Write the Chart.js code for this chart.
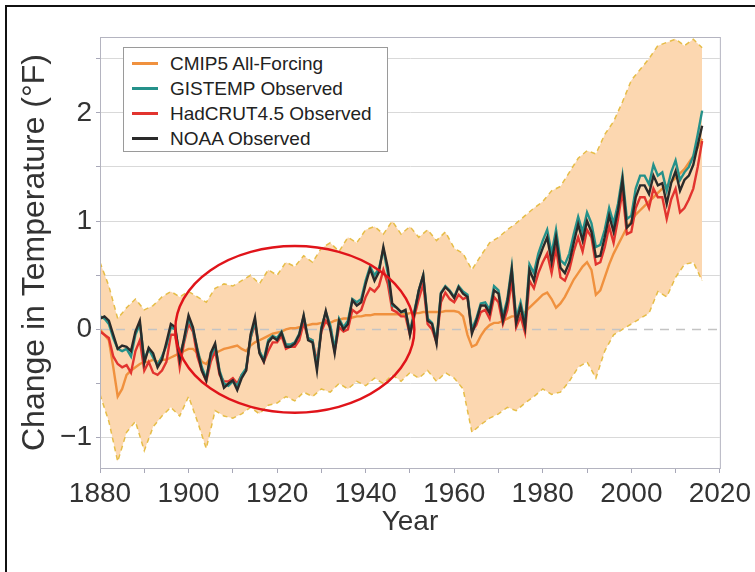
<!DOCTYPE html>
<html>
<head>
<meta charset="utf-8">
<script src="https://cdn.jsdelivr.net/npm/chart.js@4.4.1/dist/chart.umd.min.js"></script>
<style>
  html, body { margin: 0; padding: 0; background: #fff; }
  #wrap { position: relative; width: 755px; height: 572px; overflow: hidden; }
  #frame { position: absolute; left: 5px; top: 5px; width: 760px; height: 580px; border-top: 2px solid #111; border-left: 2px solid #111; pointer-events: none; }
  #legend { position: absolute; left: 123px; top: 47px; width: 265px; height: 105px; border: 1px solid #9a9a9a; background: #fff; box-sizing: border-box; padding-top: 3px; font-family: "Liberation Sans", Arial, sans-serif; font-size: 19px; color: #222; }
  .row { height: 25px; display: flex; align-items: center; white-space: nowrap; }
  .swatch { width: 26px; height: 3px; margin-left: 8px; margin-right: 12px; }
</style>
</head>
<body>
<div id="wrap">
  <canvas id="chart" width="755" height="572"></canvas>
  <div id="legend"></div>
  <div id="frame"></div>
</div>
<script>
// Annual series, change in temperature (°F) relative to 1901-1960
const firstYear = 1880;
const lastYear = 2016;

const seriesNames = ['CMIP5 All-Forcing', 'GISTEMP Observed', 'HadCRUT4.5 Observed', 'NOAA Observed'];
const seriesColors = ['#f0913e', '#25918a', '#e2342f', '#2a2a2a'];

const cmip5 = [
  0.00, -0.05, -0.10, -0.35, -0.62, -0.55, -0.42, -0.38, -0.35, -0.32,
  -0.30, -0.30, -0.28, -0.30, -0.28, -0.28, -0.26, -0.24, -0.22, -0.20,
  -0.18, -0.18, -0.22, -0.30, -0.32, -0.26, -0.22, -0.20, -0.18, -0.17,
  -0.16, -0.15, -0.18, -0.20, -0.15, -0.12, -0.10, -0.08, -0.06, -0.04,
  -0.03, -0.02, 0.00, 0.01, 0.01, 0.02, 0.03, 0.04, 0.05, 0.05,
  0.06, 0.06, 0.06, 0.08, 0.09, 0.10, 0.10, 0.11, 0.12, 0.12,
  0.13, 0.13, 0.14, 0.14, 0.14, 0.14, 0.14, 0.14, 0.14, 0.14,
  0.15, 0.15, 0.15, 0.16, 0.16, 0.16, 0.16, 0.16, 0.17, 0.17,
  0.17, 0.16, 0.12, -0.05, -0.16, -0.14, -0.06, 0.00, 0.04, 0.06,
  0.06, 0.08, 0.10, 0.12, 0.12, 0.14, 0.16, 0.20, 0.24, 0.28,
  0.32, 0.34, 0.28, 0.20, 0.24, 0.30, 0.38, 0.46, 0.52, 0.58,
  0.62, 0.55, 0.32, 0.36, 0.48, 0.60, 0.70, 0.78, 0.86, 0.94,
  1.00, 1.06, 1.10, 1.14, 1.18, 1.22, 1.26, 1.30, 1.33, 1.36,
  1.40, 1.44, 1.48, 1.54, 1.60, 1.68, 1.76
];

const gistemp = [
  0.12, 0.10, 0.05, -0.08, -0.18, -0.20, -0.18, -0.25, -0.05, 0.05,
  -0.28, -0.18, -0.26, -0.33, -0.25, -0.15, 0.02, 0.00, -0.24, -0.10,
  0.10, 0.00, -0.18, -0.35, -0.45, -0.25, -0.15, -0.38, -0.50, -0.52,
  -0.48, -0.52, -0.42, -0.36, -0.08, 0.08, -0.20, -0.28, -0.10, -0.06,
  -0.08, -0.02, -0.14, -0.14, -0.12, -0.04, 0.12, -0.08, -0.10, -0.34,
  0.02, 0.16, 0.04, -0.18, 0.10, 0.02, 0.08, 0.28, 0.25, 0.28,
  0.45, 0.58, 0.50, 0.56, 0.74, 0.52, 0.22, 0.20, 0.16, 0.17,
  -0.02, 0.17, 0.36, 0.50, 0.10, 0.06, -0.10, 0.34, 0.40, 0.36,
  0.30, 0.40, 0.35, 0.32, 0.00, 0.10, 0.24, 0.25, 0.18, 0.40,
  0.36, 0.12, 0.28, 0.58, 0.10, 0.25, 0.06, 0.60, 0.52, 0.70,
  0.82, 0.92, 0.70, 0.92, 0.64, 0.60, 0.70, 0.88, 1.04, 0.90,
  1.08, 0.98, 0.76, 0.78, 0.92, 1.12, 0.98, 1.16, 1.42, 1.02,
  1.05, 1.30, 1.42, 1.42, 1.34, 1.52, 1.42, 1.45, 1.28, 1.45,
  1.56, 1.38, 1.45, 1.50, 1.60, 1.80, 2.02
];

const hadcrut = [
  -0.02, -0.05, -0.08, -0.25, -0.32, -0.35, -0.33, -0.40, -0.20, -0.10,
  -0.38, -0.30, -0.40, -0.42, -0.38, -0.30, -0.05, -0.05, -0.35, -0.12,
  0.05, -0.02, -0.25, -0.38, -0.48, -0.30, -0.20, -0.42, -0.48, -0.48,
  -0.45, -0.50, -0.42, -0.38, -0.08, 0.05, -0.20, -0.30, -0.20, -0.12,
  -0.12, -0.06, -0.18, -0.16, -0.16, -0.10, 0.06, -0.08, -0.10, -0.30,
  -0.02, 0.08, 0.02, -0.20, 0.02, -0.02, 0.00, 0.18, 0.15, 0.18,
  0.30, 0.38, 0.35, 0.40, 0.55, 0.42, 0.18, 0.16, 0.12, 0.12,
  -0.05, 0.12, 0.28, 0.42, 0.05, 0.00, -0.12, 0.25, 0.34, 0.28,
  0.25, 0.32, 0.28, 0.30, -0.02, 0.04, 0.16, 0.18, 0.10, 0.30,
  0.25, 0.05, 0.18, 0.45, 0.02, 0.12, -0.03, 0.45, 0.38, 0.52,
  0.62, 0.70, 0.52, 0.75, 0.48, 0.45, 0.55, 0.72, 0.85, 0.72,
  0.92, 0.85, 0.60, 0.62, 0.76, 0.95, 0.80, 1.02, 1.28, 0.88,
  0.90, 1.12, 1.22, 1.22, 1.12, 1.30, 1.22, 1.22, 1.02, 1.20,
  1.30, 1.08, 1.12, 1.20, 1.30, 1.50, 1.74
];

const noaa = [
  0.10, 0.12, 0.08, -0.05, -0.18, -0.15, -0.16, -0.20, -0.02, 0.08,
  -0.31, -0.17, -0.22, -0.35, -0.28, -0.12, 0.05, 0.02, -0.28, -0.08,
  0.13, 0.02, -0.20, -0.38, -0.47, -0.22, -0.13, -0.40, -0.54, -0.50,
  -0.47, -0.56, -0.45, -0.38, -0.05, 0.11, -0.22, -0.30, -0.12, -0.07,
  -0.10, -0.03, -0.16, -0.16, -0.13, -0.05, 0.13, -0.10, -0.12, -0.38,
  0.00, 0.17, 0.00, -0.22, 0.08, 0.00, 0.05, 0.27, 0.22, 0.25,
  0.42, 0.56, 0.45, 0.53, 0.76, 0.57, 0.24, 0.20, 0.16, 0.18,
  -0.05, 0.15, 0.36, 0.50, 0.08, 0.05, -0.13, 0.33, 0.39, 0.35,
  0.29, 0.39, 0.33, 0.30, -0.04, 0.08, 0.22, 0.22, 0.15, 0.36,
  0.33, 0.08, 0.25, 0.55, 0.06, 0.21, 0.02, 0.55, 0.45, 0.64,
  0.75, 0.85, 0.62, 0.85, 0.57, 0.52, 0.62, 0.80, 0.97, 0.82,
  1.00, 0.90, 0.67, 0.68, 0.85, 1.05, 0.90, 1.10, 1.38, 0.94,
  0.98, 1.22, 1.33, 1.33, 1.25, 1.42, 1.33, 1.35, 1.16, 1.35,
  1.46, 1.28, 1.38, 1.42, 1.52, 1.70, 1.88
];

// Model spread, every second year from 1880 to 2016
const bandUpper = [
  0.62, 0.40, 0.10, 0.20, 0.28, 0.18, 0.22, 0.30, 0.35, 0.30,
  0.35, 0.30, 0.25, 0.38, 0.42, 0.40, 0.45, 0.50, 0.42, 0.55,
  0.50, 0.62, 0.58, 0.68, 0.62, 0.75, 0.80, 0.72, 0.85, 0.80,
  0.92, 0.95, 0.88, 1.00, 0.88, 0.95, 0.85, 0.92, 0.82, 0.90,
  0.75, 0.70, 0.55, 0.68, 0.80, 0.85, 0.92, 0.98, 1.05, 1.12,
  1.18, 1.28, 1.32, 1.45, 1.58, 1.65, 1.62, 1.80, 1.92, 2.10,
  2.30, 2.40, 2.50, 2.62, 2.65, 2.68, 2.62, 2.68, 2.60
];
const bandLower = [
  -0.60, -0.85, -1.22, -0.95, -0.85, -1.12, -0.90, -0.80, -0.72, -0.80,
  -0.62, -0.85, -1.10, -0.75, -0.80, -0.82, -0.78, -0.72, -0.78, -0.70,
  -0.68, -0.62, -0.66, -0.58, -0.62, -0.55, -0.58, -0.50, -0.55, -0.48,
  -0.52, -0.45, -0.50, -0.42, -0.48, -0.40, -0.45, -0.38, -0.48, -0.40,
  -0.45, -0.55, -0.95, -0.88, -0.82, -0.78, -0.72, -0.75, -0.68, -0.62,
  -0.55, -0.60, -0.58, -0.48, -0.35, -0.30, -0.45, -0.20, -0.05, 0.00,
  0.05, 0.10, 0.15, 0.35, 0.30, 0.48, 0.60, 0.62, 0.45
];

const xTickLabels = ['1880', '1900', '1920', '1940', '1960', '1980', '2000', '2020'];
// highlighted period: centre (year, °F) and half-sizes
const ellipseCenter = [1924, 0.0];
const ellipseRadius = [27, 0.77];

const years = Array.from({ length: lastYear - firstYear + 1 }, (_, i) => firstYear + i);
const bandYears = years.filter(y => y % 2 === 0);
const toPoints = (xs, ys) => ys.map((v, i) => ({ x: xs[i], y: v }));

const fontFamily = '"Liberation Sans", Arial, sans-serif';

// legend box (html so the text stays text)
const legendEl = document.getElementById('legend');
seriesNames.forEach((name, i) => {
    const row = document.createElement('div');
    row.className = 'row';
    row.innerHTML = '<span class="swatch" style="background:' + seriesColors[i] + '"></span>' + name;
    legendEl.appendChild(row);
});

const extrasPlugin = {
    id: 'extras',
    afterDatasetsDraw(chart) {
        const { ctx, chartArea, scales } = chart;
        ctx.save();
        // frame round the plot
        ctx.strokeStyle = '#b4b4c0';
        ctx.lineWidth = 1;
        ctx.strokeRect(chartArea.left + 0.5, chartArea.top + 0.5, chartArea.right - chartArea.left, chartArea.bottom - chartArea.top);
        // red ellipse
        const cx = scales.x.getPixelForValue(ellipseCenter[0]);
        const cy = scales.y.getPixelForValue(ellipseCenter[1]);
        const rx = Math.abs(scales.x.getPixelForValue(ellipseCenter[0] + ellipseRadius[0]) - cx);
        const ry = Math.abs(scales.y.getPixelForValue(ellipseCenter[1] + ellipseRadius[1]) - cy);
        ctx.beginPath();
        ctx.ellipse(cx, cy, rx, ry, 0, 0, Math.PI * 2);
        ctx.strokeStyle = '#e0141a';
        ctx.lineWidth = 2.5;
        ctx.stroke();
        ctx.restore();
    }
};

const lineStyle = (color, order) => ({
    borderColor: color,
    borderWidth: 2.4,
    pointRadius: 0,
    fill: false,
    tension: 0,
    order: order
});

new Chart(document.getElementById('chart'), {
    type: 'line',
    data: {
        datasets: [
            {
                label: 'upper',
                data: toPoints(bandYears, bandUpper),
                borderColor: '#e6bd48',
                borderWidth: 1.5,
                borderDash: [5, 4],
                backgroundColor: '#fcd7b0',
                pointRadius: 0,
                fill: '+1',
                order: 10
            },
            {
                label: 'lower',
                data: toPoints(bandYears, bandLower),
                borderColor: '#e6bd48',
                borderWidth: 1.5,
                borderDash: [5, 4],
                pointRadius: 0,
                fill: false,
                order: 9
            },
            {
                label: 'zero',
                data: [{ x: 1880, y: 0 }, { x: 2020, y: 0 }],
                borderColor: '#c4c4c4',
                borderWidth: 1.5,
                borderDash: [9, 7],
                pointRadius: 0,
                fill: false,
                order: 8
            },
            Object.assign({ label: seriesNames[0], data: toPoints(years, cmip5) }, lineStyle(seriesColors[0], 5)),
            Object.assign({ label: seriesNames[2], data: toPoints(years, hadcrut) }, lineStyle(seriesColors[2], 4)),
            Object.assign({ label: seriesNames[1], data: toPoints(years, gistemp) }, lineStyle(seriesColors[1], 3)),
            Object.assign({ label: seriesNames[3], data: toPoints(years, noaa) }, lineStyle(seriesColors[3], 1))
        ]
    },
    options: {
        responsive: false,
        animation: false,
        layout: { padding: { top: 37, right: 33, left: 0, bottom: 0 } },
        plugins: {
            legend: { display: false },
            tooltip: { enabled: false }
        },
        scales: {
            x: {
                type: 'linear',
                min: 1880,
                max: 2020,
                afterFit: (scale) => { scale.height = 104; },
                border: { color: '#a8a8b8', width: 1 },
                grid: { drawOnChartArea: false, drawTicks: true, tickLength: 5, color: '#a8a8b8' },
                ticks: {
                    stepSize: 10,
                    autoSkip: false,
                    maxRotation: 0,
                    padding: 4,
                    color: '#333',
                    font: { family: fontFamily, size: 28 },
                    callback: (v) => xTickLabels.includes(String(v)) ? String(v) : ''
                },
                title: {
                    display: true,
                    text: 'Year',
                    color: '#333',
                    font: { family: fontFamily, size: 28 },
                    padding: { top: 0, bottom: 33 }
                }
            },
            y: {
                min: -1.28,
                max: 2.7,
                afterFit: (scale) => { scale.width = 100; },
                border: { color: '#a8a8b8', width: 1 },
                grid: {
                    color: (c) => (c.tick && c.tick.value === 0) ? 'rgba(0,0,0,0)' : '#d9d9d9',
                    tickLength: 4,
                    tickColor: '#a8a8b8'
                },
                ticks: {
                    stepSize: 0.5,
                    includeBounds: false,
                    autoSkip: false,
                    padding: 4,
                    color: '#333',
                    font: { family: fontFamily, size: 28 },
                    callback: (v) => {
                        if (Math.abs(v - Math.round(v)) > 1e-6) return '';
                        return v < 0 ? '\u2212' + Math.abs(Math.round(v)) : String(Math.round(v));
                    }
                },
                title: {
                    display: true,
                    text: 'Change in Temperature (°F)',
                    color: '#333',
                    font: { family: fontFamily, size: 32 },
                    padding: { top: 16, bottom: 0 }
                }
            }
        }
    },
    plugins: [extrasPlugin]
});
</script>
</body>
</html>
